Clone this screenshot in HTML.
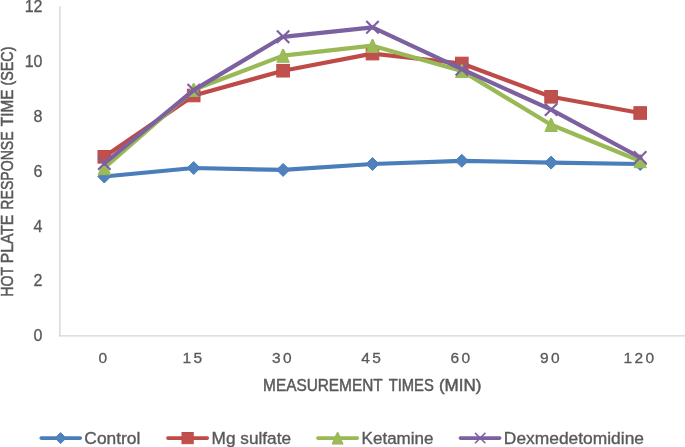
<!DOCTYPE html>
<html><head><meta charset="utf-8"><title>Hot plate response time</title>
<style>
html,body{margin:0;padding:0;background:#fff;}
body{width:685px;height:447px;overflow:hidden;}
svg{display:block;}
text{font-family:"Liberation Sans",sans-serif;fill:#595959;stroke:#595959;stroke-width:0.3px;}
text.t{stroke-width:0.5px;}
text.l{stroke-width:0.36px;}
</style></head><body>
<svg width="685" height="447" viewBox="0 0 685 447">
<rect width="685" height="447" fill="#fff"/>

<path d="M59.9,6.3V336.5" stroke="#D5D5D9" stroke-width="1.4" fill="none"/>
<path d="M59.2,335.9H685" stroke="#D5D5D9" stroke-width="1.4" fill="none"/>
<text x="42.5" y="11.8" font-size="16" text-anchor="end">12</text>
<text x="42.5" y="66.7" font-size="16" text-anchor="end">10</text>
<text x="42.5" y="121.6" font-size="16" text-anchor="end">8</text>
<text x="42.5" y="176.6" font-size="16" text-anchor="end">6</text>
<text x="42.5" y="231.5" font-size="16" text-anchor="end">4</text>
<text x="42.5" y="286.4" font-size="16" text-anchor="end">2</text>
<text x="42.5" y="341.3" font-size="16" text-anchor="end">0</text>
<text x="104.1" y="362.9" font-size="15.5" text-anchor="middle" letter-spacing="2.4">0</text>
<text x="193.5" y="362.9" font-size="15.5" text-anchor="middle" letter-spacing="2.4">15</text>
<text x="282.9" y="362.9" font-size="15.5" text-anchor="middle" letter-spacing="2.4">30</text>
<text x="372.3" y="362.9" font-size="15.5" text-anchor="middle" letter-spacing="2.4">45</text>
<text x="461.6" y="362.9" font-size="15.5" text-anchor="middle" letter-spacing="2.4">60</text>
<text x="550.9" y="362.9" font-size="15.5" text-anchor="middle" letter-spacing="2.4">90</text>
<text x="640.0" y="362.9" font-size="15.5" text-anchor="middle" letter-spacing="2.4">120</text>
<text class="t" x="263.11" y="390.6" font-size="17" textLength="119.54" lengthAdjust="spacingAndGlyphs">MEASUREMENT</text>
<text class="t" x="388.69" y="390.6" font-size="17" textLength="45.11" lengthAdjust="spacingAndGlyphs">TIMES</text>
<text class="t" x="438.90" y="390.6" font-size="17" textLength="42.40" lengthAdjust="spacingAndGlyphs">(MIN)</text>
<text class="l" x="84.37" y="443.6" font-size="16.9" textLength="55.98" lengthAdjust="spacingAndGlyphs">Control</text>
<text class="l" x="211.57" y="443.6" font-size="16.9" textLength="79.45" lengthAdjust="spacingAndGlyphs">Mg sulfate</text>
<text class="l" x="361.63" y="443.6" font-size="16.9" textLength="71.78" lengthAdjust="spacingAndGlyphs">Ketamine</text>
<text class="l" x="503.87" y="443.6" font-size="16.9" textLength="140.13" lengthAdjust="spacingAndGlyphs">Dexmedetomidine</text>
<text class="t" transform="translate(13.1,296.77) rotate(-90)" font-size="17" textLength="29.79" lengthAdjust="spacingAndGlyphs">HOT</text>
<text class="t" transform="translate(13.1,263.29) rotate(-90)" font-size="17" textLength="48.58" lengthAdjust="spacingAndGlyphs">PLATE</text>
<text class="t" transform="translate(13.1,209.66) rotate(-90)" font-size="17" textLength="78.34" lengthAdjust="spacingAndGlyphs">RESPONSE</text>
<text class="t" transform="translate(13.1,126.14) rotate(-90)" font-size="17" textLength="36.74" lengthAdjust="spacingAndGlyphs">TIME</text>
<text class="t" transform="translate(13.1,85.60) rotate(-90)" font-size="17" textLength="39.04" lengthAdjust="spacingAndGlyphs">(SEC)</text>
<polyline points="104.3,176.5 193.7,168 283.1,169.9 372.5,164 461.8,160.8 551.1,162.6 640.2,164" fill="none" stroke="#4A7EBB" stroke-width="4.2" stroke-linejoin="round" stroke-linecap="round"/>
<path d="M97.80,176.5L104.3,170.00L110.80,176.5L104.3,183.00Z" fill="#4F81BD" stroke="#4A7EBB" stroke-width="1"/>
<path d="M187.20,168L193.7,161.50L200.20,168L193.7,174.50Z" fill="#4F81BD" stroke="#4A7EBB" stroke-width="1"/>
<path d="M276.60,169.9L283.1,163.40L289.60,169.9L283.1,176.40Z" fill="#4F81BD" stroke="#4A7EBB" stroke-width="1"/>
<path d="M366.00,164L372.5,157.50L379.00,164L372.5,170.50Z" fill="#4F81BD" stroke="#4A7EBB" stroke-width="1"/>
<path d="M455.30,160.8L461.8,154.30L468.30,160.8L461.8,167.30Z" fill="#4F81BD" stroke="#4A7EBB" stroke-width="1"/>
<path d="M544.60,162.6L551.1,156.10L557.60,162.6L551.1,169.10Z" fill="#4F81BD" stroke="#4A7EBB" stroke-width="1"/>
<path d="M633.70,164L640.2,157.50L646.70,164L640.2,170.50Z" fill="#4F81BD" stroke="#4A7EBB" stroke-width="1"/>
<polyline points="104.3,156.8 193.7,95.5 283.1,70.7 372.5,53.6 461.8,63.5 551.1,96.8 640.2,113" fill="none" stroke="#BE4B48" stroke-width="4.2" stroke-linejoin="round" stroke-linecap="round"/>
<rect x="98.00" y="150.50" width="12.6" height="12.6" fill="#C0504D" stroke="#BE4B48" stroke-width="1"/>
<rect x="187.40" y="89.20" width="12.6" height="12.6" fill="#C0504D" stroke="#BE4B48" stroke-width="1"/>
<rect x="276.80" y="64.40" width="12.6" height="12.6" fill="#C0504D" stroke="#BE4B48" stroke-width="1"/>
<rect x="366.20" y="47.30" width="12.6" height="12.6" fill="#C0504D" stroke="#BE4B48" stroke-width="1"/>
<rect x="455.50" y="57.20" width="12.6" height="12.6" fill="#C0504D" stroke="#BE4B48" stroke-width="1"/>
<rect x="544.80" y="90.50" width="12.6" height="12.6" fill="#C0504D" stroke="#BE4B48" stroke-width="1"/>
<rect x="633.90" y="106.70" width="12.6" height="12.6" fill="#C0504D" stroke="#BE4B48" stroke-width="1"/>
<polyline points="104.3,168 193.7,89.8 283.1,55.6 372.5,45.7 461.8,70.9 551.1,124.8 640.2,161" fill="none" stroke="#98B954" stroke-width="4.2" stroke-linejoin="round" stroke-linecap="round"/>
<path d="M103.80,161.70L104.80,161.70L110.50,174.70L98.10,174.70Z" fill="#9BBB59" stroke="#98B954" stroke-width="1" stroke-linejoin="round"/>
<path d="M193.20,83.50L194.20,83.50L199.90,96.50L187.50,96.50Z" fill="#9BBB59" stroke="#98B954" stroke-width="1" stroke-linejoin="round"/>
<path d="M282.60,49.30L283.60,49.30L289.30,62.30L276.90,62.30Z" fill="#9BBB59" stroke="#98B954" stroke-width="1" stroke-linejoin="round"/>
<path d="M372.00,39.40L373.00,39.40L378.70,52.40L366.30,52.40Z" fill="#9BBB59" stroke="#98B954" stroke-width="1" stroke-linejoin="round"/>
<path d="M461.30,64.60L462.30,64.60L468.00,77.60L455.60,77.60Z" fill="#9BBB59" stroke="#98B954" stroke-width="1" stroke-linejoin="round"/>
<path d="M550.60,118.50L551.60,118.50L557.30,131.50L544.90,131.50Z" fill="#9BBB59" stroke="#98B954" stroke-width="1" stroke-linejoin="round"/>
<path d="M639.70,154.70L640.70,154.70L646.40,167.70L634.00,167.70Z" fill="#9BBB59" stroke="#98B954" stroke-width="1" stroke-linejoin="round"/>
<polyline points="104.3,163.5 193.7,90.1 283.1,36.8 372.5,27.3 461.8,69.2 551.1,109.6 640.2,157.5" fill="none" stroke="#7D60A0" stroke-width="4.2" stroke-linejoin="round" stroke-linecap="round"/>
<path d="M98.10,157.30L110.50,169.70M98.10,169.70L110.50,157.30" stroke="#7D60A0" stroke-width="2.1" fill="none"/>
<path d="M187.50,83.90L199.90,96.30M187.50,96.30L199.90,83.90" stroke="#7D60A0" stroke-width="2.1" fill="none"/>
<path d="M276.90,30.60L289.30,43.00M276.90,43.00L289.30,30.60" stroke="#7D60A0" stroke-width="2.1" fill="none"/>
<path d="M366.30,21.10L378.70,33.50M366.30,33.50L378.70,21.10" stroke="#7D60A0" stroke-width="2.1" fill="none"/>
<path d="M455.60,63.00L468.00,75.40M455.60,75.40L468.00,63.00" stroke="#7D60A0" stroke-width="2.1" fill="none"/>
<path d="M544.90,103.40L557.30,115.80M544.90,115.80L557.30,103.40" stroke="#7D60A0" stroke-width="2.1" fill="none"/>
<path d="M634.00,151.30L646.40,163.70M634.00,163.70L646.40,151.30" stroke="#7D60A0" stroke-width="2.1" fill="none"/>
<path d="M41.199999999999996,438.1H80.3" stroke="#4A7EBB" stroke-width="3.6" stroke-linecap="round" fill="none"/>
<path d="M55.10,438.1L60.6,432.60L66.10,438.1L60.6,443.60Z" fill="#4F81BD" stroke="#4A7EBB" stroke-width="1"/>
<path d="M167.9,438.1H207.29999999999998" stroke="#BE4B48" stroke-width="3.6" stroke-linecap="round" fill="none"/>
<rect x="182.00" y="432.50" width="11.2" height="11.2" fill="#C0504D" stroke="#BE4B48" stroke-width="1"/>
<path d="M317.90000000000003,438.1H357.3" stroke="#98B954" stroke-width="3.6" stroke-linecap="round" fill="none"/>
<path d="M337.15,432.50L338.05,432.50L343.10,444.10L332.10,444.10Z" fill="#9BBB59" stroke="#98B954" stroke-width="1" stroke-linejoin="round"/>
<path d="M460.40000000000003,438.1H499.7" stroke="#7D60A0" stroke-width="3.6" stroke-linecap="round" fill="none"/>
<path d="M475.00,432.90L485.40,443.30M475.00,443.30L485.40,432.90" stroke="#7D60A0" stroke-width="1.5" fill="none"/>
</svg></body></html>
